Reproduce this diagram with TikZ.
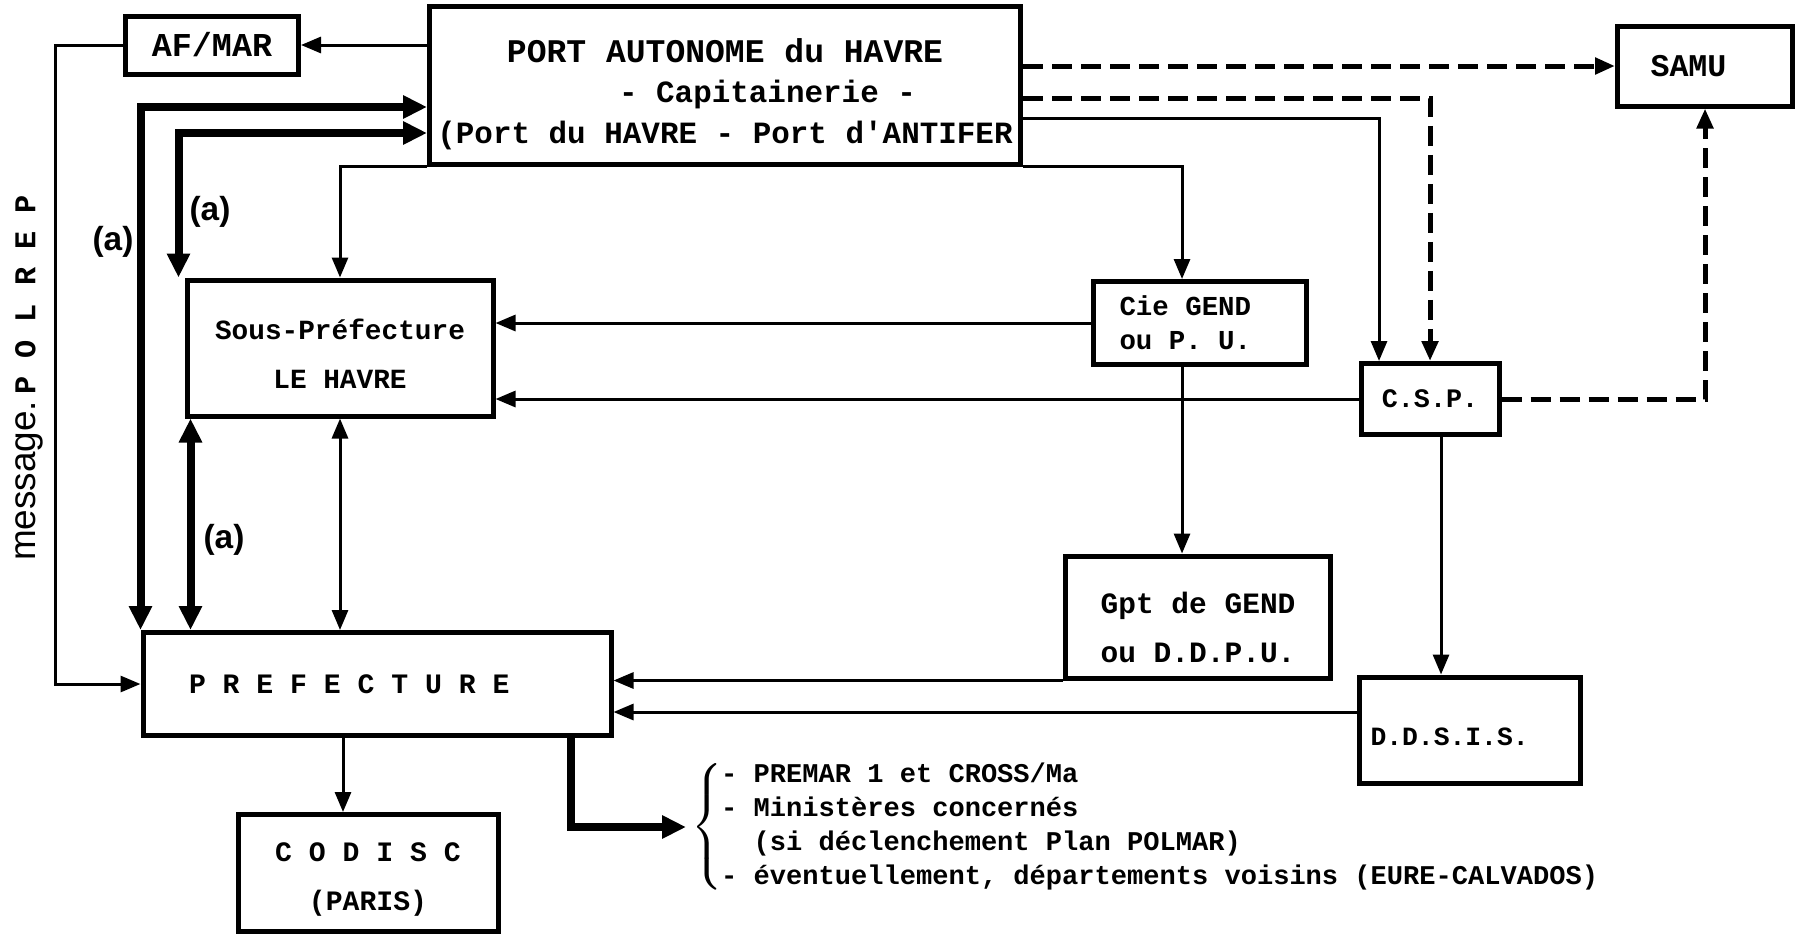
\documentclass[tikz,border=0pt]{standalone}
\usepackage{fontspec}
\setmonofont{Liberation Mono}
\setsansfont{Liberation Sans}
\usetikzlibrary{arrows.meta}

\begin{document}
\begin{tikzpicture}[x=0.1mm,y=-0.1mm,
  fs/.style 2 args={font=\ttfamily\bfseries\fontsize{#1}{#2}\selectfont},
  b/.style={draw,line width=0.5mm,inner sep=0pt,align=center},
  ln/.style={line width=0.3mm},
  thk/.style={line width=0.8mm,>={Triangle[length=2.4mm,width=2.2mm]}},
  dsh/.style={line width=0.5mm,dash pattern=on 2mm off 0.9mm},
  lab/.style={font=\sffamily\bfseries\fontsize{9.5}{11}\selectfont,inner sep=0pt},
  >={Triangle[length=2mm,width=1.6mm]}]
\useasboundingbox (0,0) rectangle (1798,934);
\node[b,minimum width=17.3mm,minimum height=5.8mm,fs={9.5}{11}] (afmar) at (212,45) {AF/MAR};
\node[b,minimum width=59.1mm,minimum height=15.8mm,fs={8.8}{11.5}] (port) at (725,85) {\rule{0pt}{12pt}{\fontsize{9.4}{11.5}\selectfont PORT AUTONOME du HAVRE}\\\hspace*{8.5mm}- Capitainerie -\\(Port du HAVRE - Port d'ANTIFER};
\node[b,minimum height=8mm,inner xsep=3.3mm,fs={9}{11}] (samu) at (1705,66) {\makebox[10.9mm][l]{SAMU}};
\node[b,minimum width=30.6mm,minimum height=13.6mm,fs={7.9}{14}] (sp) at (340,348) {\rule{0pt}{9pt}Sous-Préfecture\\LE HAVRE};
\node[b,minimum height=8.3mm,inner xsep=2.6mm,align=left,fs={7.8}{9.7}] (cie) at (1200,323) {\makebox[16.1mm][l]{Cie GEND}\\ou P. U.};
\node[b,minimum width=13.8mm,minimum height=7.1mm,fs={7.6}{9}] (csp) at (1430,399) {C.S.P.};
\node[b,minimum width=26.5mm,minimum height=12.2mm,fs={8.4}{13.7}] (gpt) at (1198,617) {\rule{0pt}{12pt}Gpt de GEND\\ou D.D.P.U.};
\node[b,minimum height=10.3mm,inner xsep=4.6mm,fs={8}{10}] (pref) at (377,684) {\makebox[37.6mm][l]{P R E F E C T U R E}};
\node[b,minimum height=10.6mm,inner xsep=1.1mm,fs={7.5}{9}] (ddsis) at (1470,730) {\rule{0pt}{9pt}\makebox[19.9mm][l]{D.D.S.I.S.}};
\node[b,minimum width=26mm,minimum height=11.7mm,fs={8}{14}] (codisc) at (368,873) {\rule{0pt}{9pt}C O D I S C\\(PARIS)};
\node[anchor=west,inner sep=0pt,fs={7.7}{9.7}] (dest) at (691,827) {$\left\{\kern-0.5pt\begin{tabular}{@{}l@{}}- PREMAR 1 et CROSS/Ma\\- Ministères concernés\\\phantom{-} (si déclenchement Plan POLMAR)\\- éventuellement, départements voisins (EURE-CALVADOS)\end{tabular}\right.$};
\node[rotate=90,inner sep=0pt,font=\sffamily\fontsize{10.5}{12}\selectfont] (msg) at (29,378) {message.\,{\ttfamily\bfseries\fontsize{8.6}{10}\selectfont P O L R E P}};
\node[lab] (la1) at (113,242) {(a)};
\node[lab] (la2) at (210,212) {(a)};
\node[lab] (la3) at (224,540) {(a)};
\draw[ln,->] (port.west |- afmar.east) -- (afmar.east);
\draw[ln,->] (afmar.west) -- ++(-68,0) |- (pref.west);
\draw[thk,<->] ([yshift=-2.2mm]port.west) -| (pref.north west);
\draw[thk,<->] ([yshift=-4.8mm]port.west) -| ([xshift=-0.6mm]sp.north west);
\draw[thk,<->] ([xshift=0.6mm]sp.south west) -- ([xshift=0.6mm]sp.south west |- pref.north);
\draw[ln,<->] (sp.south) -- (sp.south |- pref.north);
\draw[ln,->] (port.south west) -| (sp.north);
\draw[ln,->] (port.south east) -| ([xshift=-1.8mm]cie.north);
\draw[ln,->] ([yshift=-3.3mm]port.east) -| ([xshift=-5.1mm]csp.north);
\draw[dsh,->] ([yshift=-1.3mm]port.east) -| (csp.north);
\draw[dsh,->] (port.east |- samu.west) -- (samu.west);
\draw[dsh,->] (csp.east) -| (samu.south);
\draw[ln,->] (cie.west) -- (cie.west -| sp.east);
\draw[ln,->] (csp.west) -- (csp.west -| sp.east);
\draw[ln,->] ([xshift=-1.8mm]cie.south) -- ([xshift=-1.8mm]cie.south |- gpt.north);
\draw[ln,->] ([xshift=1.1mm]csp.south) -- ([xshift=1.1mm]csp.south |- ddsis.north);
\draw[ln,->] (gpt.south west) -- (gpt.south west -| pref.east);
\draw[ln,->] ([yshift=1.8mm]ddsis.west) -- ([yshift=1.8mm]ddsis.west -| pref.east);
\draw[ln,->] ([xshift=-2.5mm]codisc.north |- pref.south) -- ([xshift=-2.5mm]codisc.north);
\draw[thk,->] ([xshift=-4.3mm]pref.south east) |- ([xshift=-0.5mm]dest.west);
\end{tikzpicture}
\end{document}
